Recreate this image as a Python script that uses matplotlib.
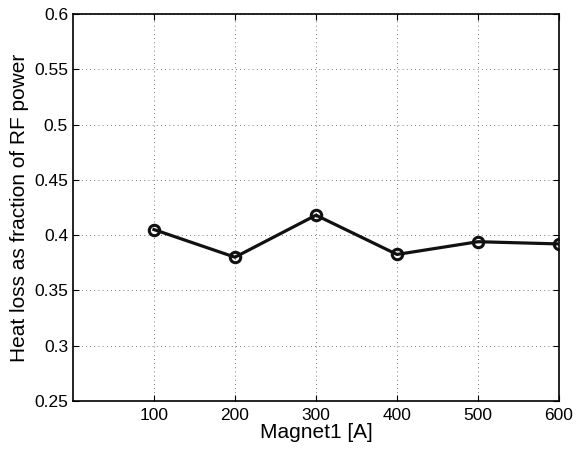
import matplotlib
matplotlib.use("Agg")
import matplotlib.pyplot as plt

plt.rcParams['font.family'] = ['Liberation Sans', 'DejaVu Sans']

magnet_current = [100, 200, 300, 400, 500, 600]
heat_loss_fraction = [0.405, 0.380, 0.418, 0.3825, 0.394, 0.392]
x_ticks = [100, 200, 300, 400, 500, 600]
y_ticks = [0.25, 0.3, 0.35, 0.4, 0.45, 0.5, 0.55, 0.6]

fig = plt.figure(figsize=(5.79, 4.49), dpi=100)
ax = fig.add_axes([0.126, 0.107, 0.8395, 0.862])

ax.plot(magnet_current, heat_loss_fraction, color='#111111', linewidth=2.3,
        marker='o', markersize=7.5, markerfacecolor='none', markeredgewidth=2.2,
        zorder=3)

ax.set_xlim(0, 600)
ax.set_ylim(0.25, 0.6)
ax.set_xticks(x_ticks)
ax.set_yticks(y_ticks)
ax.set_yticklabels([f'{v:g}' for v in y_ticks])
ax.grid(True, linestyle=(0, (1, 4)), color='black', linewidth=0.6, alpha=0.7)
ax.tick_params(direction='in', labelsize=12.5, length=4, top=True, right=True)
ax.tick_params(axis='x', pad=5)
for s in ax.spines.values():
    s.set_linewidth(1.2)

ax.set_xlabel('Magnet1 [A]', fontsize=15, labelpad=0)
ax.set_ylabel('Heat loss as fraction of RF power', fontsize=15, labelpad=4)

fig.savefig('out.png', dpi=100)
